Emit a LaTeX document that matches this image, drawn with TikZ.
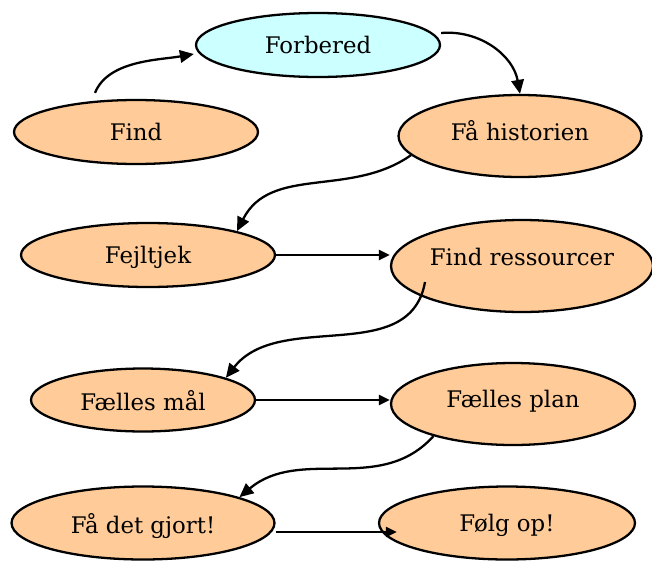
\documentclass[tikz,border=0pt]{standalone}
\usepackage{fontspec}
\setmainfont{DejaVu Serif}
\usepackage{xcolor}
\usepackage{tikz}
\usetikzlibrary{arrows.meta,shapes.geometric}

\definecolor{peach}{HTML}{FFCC99}
\definecolor{paleblue}{HTML}{CCFFFF}

\begin{document}
\begin{tikzpicture}[->,>={Triangle[length=2.8mm,width=2.5mm]},x=0.02cm,y=0.02cm,line width=1.3pt]
  \tikzstyle{stage}=[ellipse,draw,fill=peach,inner sep=0pt,text depth=0pt,font=\fontsize{13}{15}\selectfont]
  \tikzstyle{straight}=[-{Triangle[length=2.2mm,width=2mm]}]
  \useasboundingbox (0,0) rectangle (652,-561);

  \node[stage,fill=paleblue,minimum width=4.88cm,minimum height=1.28cm] (forbered)   at (318,-45)  {Forbered};
  \node[stage,minimum width=4.88cm,minimum height=1.28cm]               (find)       at (136,-132) {Find};
  \node[stage,minimum width=4.86cm,minimum height=1.64cm,text depth=6.8pt]  (historien)  at (520,-136) {Få historien};
  \node[stage,minimum width=5.08cm,minimum height=1.28cm]               (fejltjek)   at (148,-255) {Fejltjek};
  \node[stage,minimum width=5.24cm,minimum height=1.84cm,text depth=11pt] (ressourcer) at (522,-266) {Find ressourcer};
  \node[stage,minimum width=4.48cm,minimum height=1.26cm]               (maal)       at (143,-400) {Fælles mål};
  \node[stage,minimum width=4.88cm,minimum height=1.64cm,text depth=6.4pt]  (plan)       at (513,-404) {Fælles plan};
  \node[stage,minimum width=5.26cm,minimum height=1.46cm]               (gjort)      at (143,-523) {Få det gjort!};
  \node[stage,minimum width=5.12cm,minimum height=1.46cm]               (foelg)      at (507,-523) {Følg op!};

  \path ([shift={(-41,6)}]find.north)      edge [out=68,in=190,looseness=0.85]  ([shift={(-1,-9)}]forbered.west)
        ([shift={(0,12)}]forbered.east)    edge [out=5,in=100]   (historien.north)
        (historien.190)                    edge [out=215,in=63]  (fejltjek.15)
        (fejltjek.east)                    edge [straight]       (fejltjek.east -| ressourcer.west)
        ([shift={(-97,-16)}]ressourcer.center) edge [out=260,in=52] (maal.15)
        (maal.east)                        edge [straight]       (maal.east -| plan.west)
        (plan.202)                         edge [out=228,in=40]  (gjort.15)
        ([shift={(0,-9)}]gjort.east)       edge [straight]       ([shift={(19,-9)}]foelg.west);
\end{tikzpicture}
\end{document}
